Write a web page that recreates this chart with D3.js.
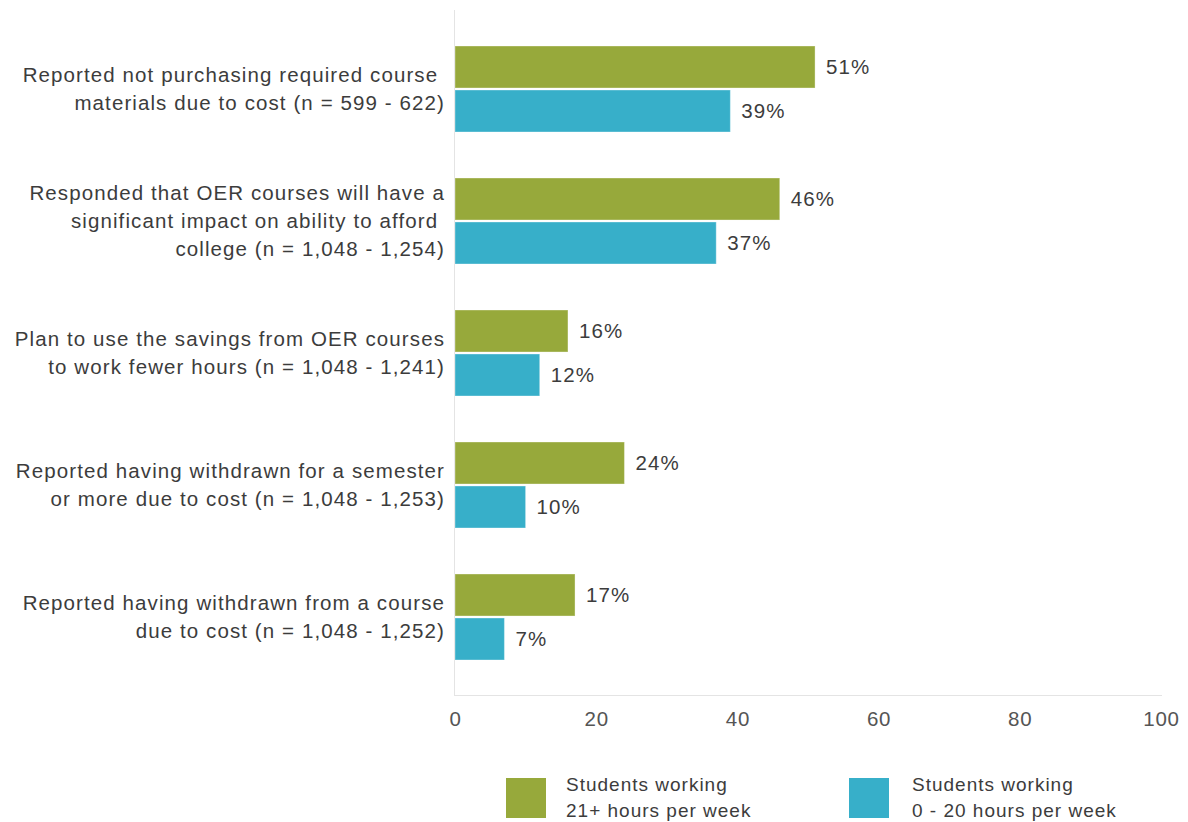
<!DOCTYPE html>
<html>
<head>
<meta charset="utf-8">
<script src="https://cdn.jsdelivr.net/npm/d3@7"></script>
<style>
  html, body { margin: 0; padding: 0; background: #fff; }
  svg { display: block; font-family: "Liberation Sans", Arial, sans-serif; }
</style>
</head>
<body>
<div id="chart"></div>
<script>
// ---- Data ----
const categories = [
  ['Reported not purchasing required course ', 'materials due to cost (n = 599 - 622)'],
  ['Responded that OER courses will have a', 'significant impact on ability to afford ', 'college (n = 1,048 - 1,254)'],
  ['Plan to use the savings from OER courses', 'to work fewer hours (n = 1,048 - 1,241)'],
  ['Reported having withdrawn for a semester', 'or more due to cost (n = 1,048 - 1,253)'],
  ['Reported having withdrawn from a course', 'due to cost (n = 1,048 - 1,252)']
];
const seriesNames = ['Students working 21+ hours per week', 'Students working 0 - 20 hours per week'];
const legendLines = [['Students working', '21+ hours per week'], ['Students working', '0 - 20 hours per week']];
const fullTime = [51, 46, 16, 24, 17];   // 21+ hours
const partTime = [39, 37, 12, 10, 7];    // 0 - 20 hours
const xTicks = [0, 20, 40, 60, 80, 100];
const colors = ['#97a93b', '#37afc9'];

const W = 1188, H = 822;
const svg = d3.select('#chart').append('svg').attr('width', W).attr('height', H);

// ---- Scales ----
const x = d3.scaleLinear().domain([0, 100]).range([455, 1161]);
const y = d3.scaleBand().domain(d3.range(categories.length)).range([23, 683]).paddingInner(0);
const ySub = d3.scaleBand().domain([0, 1]).range([23, 109]).paddingInner(0.045);

const values = [fullTime, partTime];
const textFill = '#3c3c3c';
const fontSize = '20.5px';
const spacing = '1.1px';

// ---- Frame lines ----
svg.append('line')
  .attr('x1', 454.5).attr('x2', 454.5).attr('y1', 10).attr('y2', 695)
  .attr('stroke', '#e4e4e4').attr('stroke-width', 1);
svg.append('line')
  .attr('x1', 454).attr('x2', 1162).attr('y1', 695.5).attr('y2', 695.5)
  .attr('stroke', '#e4e4e4').attr('stroke-width', 1);

// ---- Bars ----
const groups = svg.selectAll('.grp')
  .data(categories)
  .join('g')
  .attr('class', 'grp')
  .attr('transform', (_, i) => `translate(0,${y(i)})`);

values.forEach((vals, s) => {
  groups.append('rect')
    .attr('x', x(0))
    .attr('y', ySub(s))
    .attr('width', (_, i) => x(vals[i]) - x(0))
    .attr('height', ySub.bandwidth())
    .attr('fill', colors[s])
    .attr('stroke', 'rgba(255,255,255,0.35)')
    .attr('stroke-width', 1);

  groups.append('text')
    .attr('x', (_, i) => x(vals[i]) + 11)
    .attr('y', ySub(s) + ySub.bandwidth() / 2)
    .attr('dy', '0.35em')
    .attr('font-size', fontSize)
    .attr('letter-spacing', spacing)
    .attr('fill', textFill)
    .text((_, i) => `${vals[i]}%`);
});

// ---- Category labels ----
groups.each(function (lines) {
  const cy = y.bandwidth() / 2;
  const t = d3.select(this).append('text')
    .attr('text-anchor', 'end')
    .attr('font-size', fontSize)
    .attr('letter-spacing', spacing)
    .attr('fill', textFill)
    .style('white-space', 'pre');
  lines.forEach((ln, k) => {
    t.append('tspan')
      .attr('x', 445)
      .attr('y', cy + (k - (lines.length - 1) / 2) * 28)
      .attr('dy', '0.35em')
      .text(ln);
  });
});

// ---- X axis ----
const xAxis = d3.axisBottom(x).tickValues(xTicks).tickSize(0).tickPadding(16);
svg.append('g')
  .attr('transform', 'translate(0,695)')
  .call(xAxis)
  .attr('font-family', null)
  .call(g => g.select('.domain').remove())
  .call(g => g.selectAll('text')
    .attr('font-size', fontSize)
    .attr('letter-spacing', '0.8px')
    .attr('fill', '#555'));

// ---- Legend ----
const legendX = [506, 849];
const legend = svg.selectAll('.leg')
  .data(seriesNames)
  .join('g')
  .attr('class', 'leg')
  .attr('transform', (_, i) => `translate(${legendX[i]},778)`);

legend.append('rect')
  .attr('width', 40).attr('height', 40)
  .attr('fill', (_, i) => colors[i]);

legend.append('text')
  .attr('font-size', '19px')
  .attr('letter-spacing', '1px')
  .attr('fill', textFill)
  .each(function (_, i) {
    legendLines[i].forEach((ln, k) => {
      d3.select(this).append('tspan')
        .attr('x', i === 0 ? 60 : 63)
        .attr('y', 6 + k * 26)
        .attr('dy', '0.35em')
        .text(ln);
    });
  });
</script>
</body>
</html>
